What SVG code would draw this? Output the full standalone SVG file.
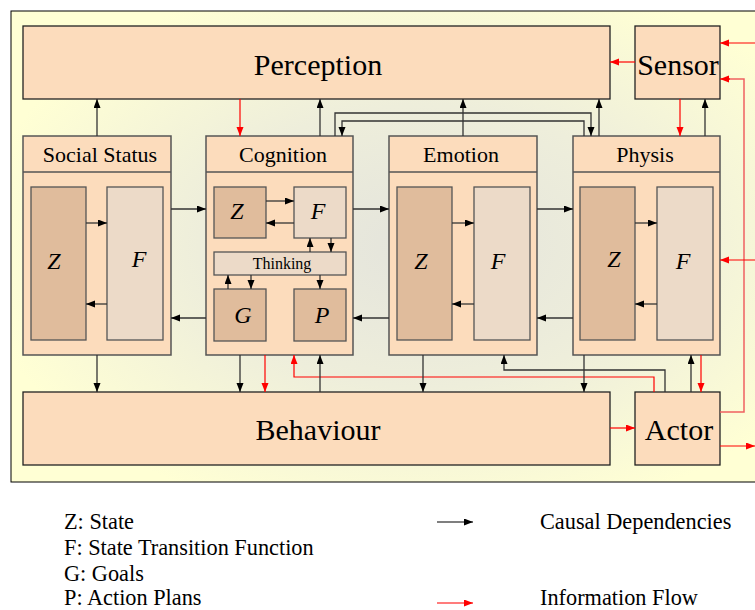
<svg xmlns="http://www.w3.org/2000/svg" width="755" height="610" viewBox="0 0 755 610" font-family="'Liberation Serif', 'Times New Roman', Tinos, 'Nimbus Roman', 'DejaVu Serif', serif">
<defs>
<radialGradient id="bg" cx="0.55" cy="0.5" r="0.6">
<stop offset="0" stop-color="#e4e4dc"/>
<stop offset="0.5" stop-color="#eeeedb"/>
<stop offset="1" stop-color="#ffffd4"/>
</radialGradient>
<marker id="ab" markerUnits="userSpaceOnUse" markerWidth="10" markerHeight="8" refX="9" refY="3.5" orient="auto"><path d="M0,0 L9,3.5 L0,7 z" fill="#000"/></marker>
<marker id="ar" markerUnits="userSpaceOnUse" markerWidth="10" markerHeight="8" refX="9" refY="3.5" orient="auto"><path d="M0,0 L9,3.5 L0,7 z" fill="#ff0000"/></marker>
<style>
.box{fill:#fcdcbc;stroke:#222;stroke-width:1.3}
.mod{fill:#fcdcbc;stroke:#555;stroke-width:1.5}
.z{fill:#e0bc9c;stroke:#555;stroke-width:1.3}
.f{fill:#ecdac8;stroke:#555;stroke-width:1.3}
.t{fill:#000}
.big{font-size:30px}
.ttl{font-size:22px}
.it{font-size:24px;font-style:italic}
.leg{font-size:22.3px}
.c{fill:none;stroke:#333;stroke-width:1.3}
.cb{marker-end:url(#ab)}
.r{fill:none;stroke:#ff0000;stroke-width:1.2;marker-end:url(#ar)}
.r2{fill:none;stroke:#f06060;stroke-width:1.5}
</style>
</defs>
<rect x="0" y="0" width="755" height="610" fill="#fff"/>
<rect x="11" y="11" width="750" height="471" fill="url(#bg)" stroke="#000" stroke-width="1"/>

<g id="perception"><rect class="box" x="23" y="26" width="587" height="73"/><text class="t big" x="318" y="75" text-anchor="middle">Perception</text></g>
<g id="sensor"><rect class="box" x="635" y="26" width="85" height="73"/><text class="t big" x="678" y="75" text-anchor="middle">Sensor</text></g>

<g id="social-status">
<rect class="mod" x="23" y="136" width="148" height="219"/><line x1="23" y1="172" x2="171" y2="172" stroke="#555" stroke-width="1.3"/>
<text class="t ttl" x="100" y="162" text-anchor="middle">Social Status</text>
<rect class="z" x="31" y="187" width="55" height="153"/><rect class="f" x="107" y="187" width="56" height="153"/>
<text class="t it" x="54" y="269" text-anchor="middle">Z</text><text class="t it" x="139" y="267" text-anchor="middle">F</text>
</g>
<g id="cognition">
<rect class="mod" x="206" y="136" width="147" height="219"/><line x1="206" y1="172" x2="353" y2="172" stroke="#555" stroke-width="1.3"/>
<text class="t ttl" x="283" y="162" text-anchor="middle">Cognition</text>
<rect class="z" x="214" y="187" width="52" height="51"/><rect class="f" x="294" y="187" width="52" height="51"/>
<rect class="f" x="214" y="252" width="132" height="23"/>
<rect class="z" x="214" y="289" width="52" height="52"/><rect class="z" x="294" y="289" width="52" height="52"/>
<text class="t it" x="237" y="219" text-anchor="middle">Z</text><text class="t it" x="318" y="219" text-anchor="middle">F</text>
<text class="t" font-size="16" x="282" y="269" text-anchor="middle">Thinking</text>
<text class="t it" x="243" y="323" text-anchor="middle">G</text><text class="t it" x="322" y="323" text-anchor="middle">P</text>
</g>
<g id="emotion">
<rect class="mod" x="389" y="136" width="148" height="219"/><line x1="389" y1="172" x2="537" y2="172" stroke="#555" stroke-width="1.3"/>
<text class="t ttl" x="461" y="162" text-anchor="middle">Emotion</text>
<rect class="z" x="397" y="187" width="55" height="153"/><rect class="f" x="474" y="187" width="56" height="153"/>
<text class="t it" x="421" y="269" text-anchor="middle">Z</text><text class="t it" x="498" y="269" text-anchor="middle">F</text>
</g>
<g id="physis">
<rect class="mod" x="573" y="136" width="147" height="219"/><line x1="573" y1="172" x2="720" y2="172" stroke="#555" stroke-width="1.3"/>
<text class="t ttl" x="645" y="162" text-anchor="middle">Physis</text>
<rect class="z" x="580" y="187" width="55" height="153"/><rect class="f" x="657" y="187" width="56" height="153"/>
<text class="t it" x="614" y="267" text-anchor="middle">Z</text><text class="t it" x="683" y="269" text-anchor="middle">F</text>
</g>

<g id="behaviour"><rect class="box" x="23" y="392" width="587" height="73"/><text class="t big" x="318" y="440" text-anchor="middle">Behaviour</text></g>
<g id="actor"><rect class="box" x="635" y="392" width="85" height="73"/><text class="t big" x="679" y="440" text-anchor="middle">Actor</text></g>

<g id="connectors">
<line class="c cb" x1="86" y1="223" x2="107" y2="223"/>
<line class="c cb" x1="107" y1="304" x2="86" y2="304"/>
<line class="c cb" x1="452" y1="223" x2="474" y2="223"/>
<line class="c cb" x1="474" y1="304" x2="452" y2="304"/>
<line class="c cb" x1="635" y1="223" x2="657" y2="223"/>
<line class="c cb" x1="657" y1="304" x2="635" y2="304"/>
<line class="c cb" x1="266" y1="201" x2="294" y2="201"/>
<line class="c cb" x1="294" y1="223" x2="266" y2="223"/>
<line class="c cb" x1="310" y1="252" x2="310" y2="238"/>
<line class="c cb" x1="331" y1="238" x2="331" y2="252"/>
<line class="c cb" x1="228" y1="289" x2="228" y2="275"/>
<line class="c cb" x1="251" y1="275" x2="251" y2="289"/>
<line class="c cb" x1="320" y1="275" x2="320" y2="289"/>
<line class="c cb" x1="171" y1="209" x2="206" y2="209"/>
<line class="c cb" x1="206" y1="318" x2="171" y2="318"/>
<line class="c cb" x1="353" y1="209" x2="389" y2="209"/>
<line class="c cb" x1="389" y1="318" x2="353" y2="318"/>
<line class="c cb" x1="537" y1="209" x2="573" y2="209"/>
<line class="c cb" x1="573" y1="318" x2="537" y2="318"/>
<line class="c cb" x1="97" y1="136" x2="97" y2="99"/>
<line class="r" x1="240" y1="99" x2="240" y2="136"/>
<line class="c cb" x1="320" y1="136" x2="320" y2="99"/>
<line class="c cb" x1="463" y1="136" x2="463" y2="99"/>
<line class="c cb" x1="599" y1="136" x2="599" y2="99"/>
<polyline class="c cb" points="335,136 335,113 591,113 591,136"/>
<polyline class="c cb" points="584,136 584,121 342,121 342,136"/>
<line class="r" x1="680" y1="99" x2="680" y2="136"/>
<line class="c cb" x1="705" y1="136" x2="705" y2="99"/>
<line class="r" x1="635" y1="62" x2="610" y2="62"/>
<line class="r" x1="755" y1="43" x2="720" y2="43"/>
<polyline class="r2" points="720,412 744,412 744,79 728,79"/>
<line class="r" x1="730" y1="79" x2="720" y2="79"/>
<line class="r" x1="755" y1="260" x2="720" y2="260"/>
<line class="r" x1="720" y1="446" x2="755" y2="446"/>
<line class="r" x1="610" y1="428" x2="635" y2="428"/>
<line class="c cb" x1="97" y1="355" x2="97" y2="392"/>
<line class="c cb" x1="240" y1="355" x2="240" y2="392"/>
<line class="r" x1="265" y1="355" x2="265" y2="392"/>
<polyline class="r" points="654,392 654,377 294,377 294,355"/>
<line class="c cb" x1="320" y1="392" x2="320" y2="355"/>
<line class="c cb" x1="423" y1="355" x2="423" y2="392"/>
<polyline class="c cb" points="665,392 665,370 504,370 504,355"/>
<line class="c cb" x1="584" y1="355" x2="584" y2="392"/>
<line class="c cb" x1="691" y1="392" x2="691" y2="355"/>
<line class="r" x1="701" y1="355" x2="701" y2="392"/>
</g>

<g id="legend">
<text class="t leg" x="64" y="529">Z: State</text>
<text class="t leg" x="64" y="555">F: State Transition Function</text>
<text class="t leg" x="64" y="581">G: Goals</text>
<text class="t leg" x="64" y="605">P: Action Plans</text>
<line x1="437" y1="522" x2="473" y2="522" stroke="#000" stroke-width="1.2" marker-end="url(#ab)"/>
<text class="t leg" x="540" y="529">Causal Dependencies</text>
<line x1="437" y1="603" x2="473" y2="603" stroke="#ff5050" stroke-width="1.5" marker-end="url(#ar)"/>
<text class="t leg" x="540" y="605">Information Flow</text>
</g>
</svg>
